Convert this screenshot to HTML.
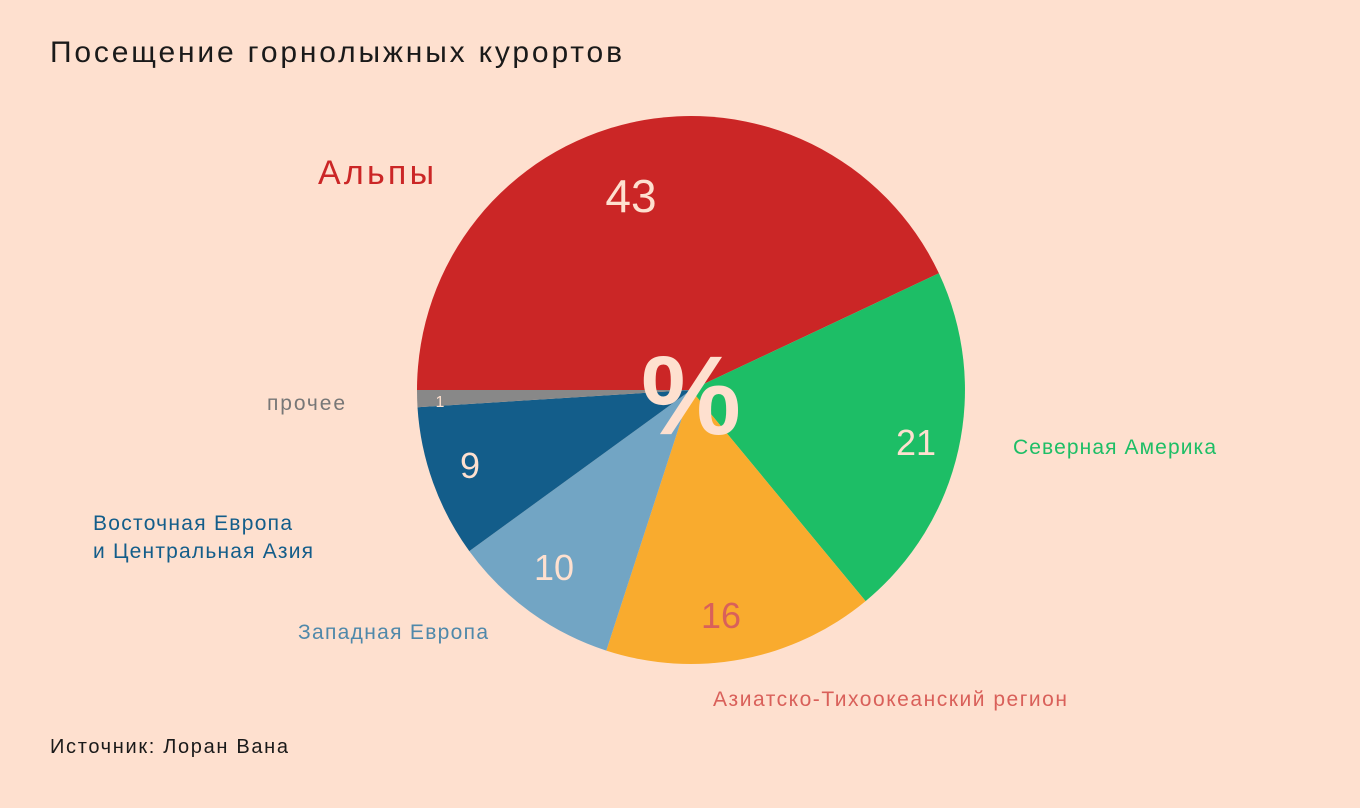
<!DOCTYPE html>
<html><head><meta charset="utf-8"><style>
html,body{margin:0;padding:0;background:#fee0cf;}
svg{display:block;font-family:"Liberation Sans","DejaVu Sans",sans-serif;}
</style></head><body>
<svg width="1360" height="808" viewBox="0 0 1360 808">
<rect width="1360" height="808" fill="#fee0cf"/>
<text x="50" y="62" font-size="30" fill="#1a1a1a" textLength="572" lengthAdjust="spacing">Посещение горнолыжных курортов</text>
<path d="M691,390 L417,390 A274,274 0 0 1 938.9,273.3 Z" fill="#cb2626"/>
<path d="M691,390 L938.9,273.3 A274,274 0 0 1 865.6,601.1 Z" fill="#1dbe66"/>
<path d="M691,390 L865.6,601.1 A274,274 0 0 1 606.3,650.6 Z" fill="#f9ab2e"/>
<path d="M691,390 L606.3,650.6 A274,274 0 0 1 469.3,551.1 Z" fill="#72a5c4"/>
<path d="M691,390 L469.3,551.1 A274,274 0 0 1 417.5,407.2 Z" fill="#135d8a"/>
<path d="M691,390 L417.5,407.2 A274,274 0 0 1 417,390 Z" fill="#888888"/>
<text x="691" y="434" font-size="112" font-weight="bold" fill="#fee0cf" text-anchor="middle" textLength="100" lengthAdjust="spacingAndGlyphs">%</text>
<g font-size="36" fill="#fee0cf" text-anchor="middle">
<text x="631" y="212" font-size="46">43</text>
<text x="916" y="455">21</text>
<text x="721" y="628" fill="#d9605a">16</text>
<text x="554" y="580">10</text>
<text x="470" y="478">9</text>
<text x="440" y="407" font-size="16">1</text>
</g>
<text x="318" y="184" font-size="34" fill="#cb2626" textLength="116" lengthAdjust="spacing">Альпы</text>
<text x="1013" y="454" font-size="21" fill="#1dbe66" textLength="203" lengthAdjust="spacing">Северная Америка</text>
<text x="713" y="706" font-size="21" fill="#d9605a" textLength="354" lengthAdjust="spacing">Азиатско-Тихоокеанский регион</text>
<text x="298" y="639" font-size="21" fill="#4f88aa" textLength="190" lengthAdjust="spacing">Западная Европа</text>
<text x="93" y="530" font-size="21" fill="#135d8a" textLength="199" lengthAdjust="spacing">Восточная Европа</text>
<text x="93" y="558" font-size="21" fill="#135d8a" textLength="220" lengthAdjust="spacing">и Центральная Азия</text>
<text x="267" y="410" font-size="21" fill="#777" textLength="78" lengthAdjust="spacing">прочее</text>
<text x="50" y="753" font-size="20" fill="#1a1a1a" textLength="238" lengthAdjust="spacing">Источник: Лоран Вана</text>
</svg>
</body></html>
